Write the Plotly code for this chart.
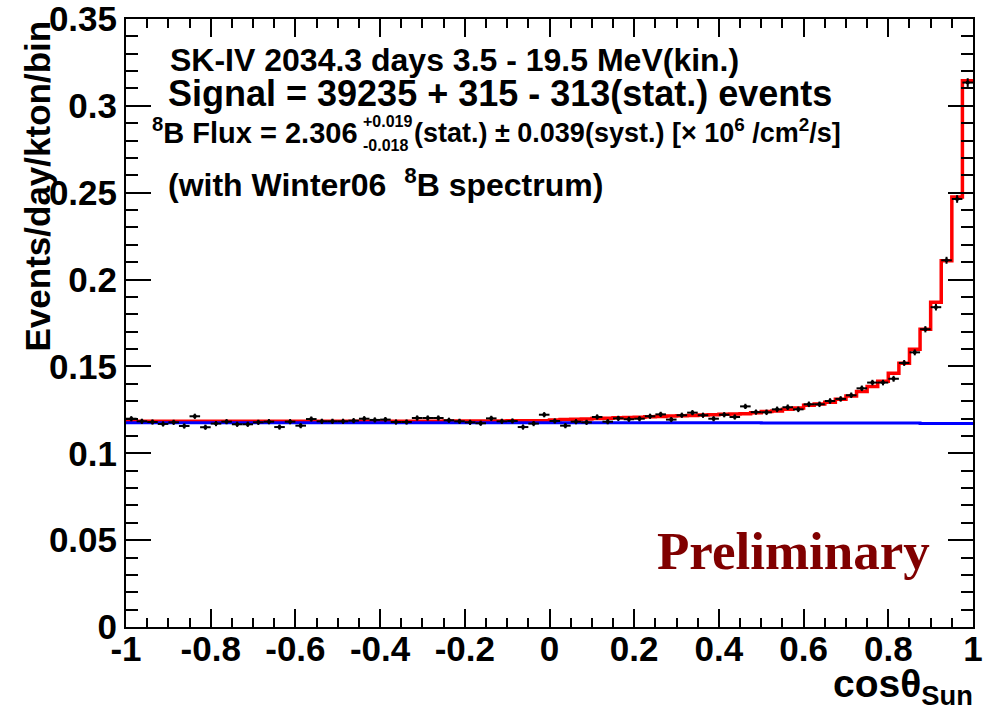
import numpy as np
import plotly.graph_objects as go

# ---------------- data ----------------
bin_edges = np.linspace(-1.0, 1.0, 81)
bin_centers = 0.5 * (bin_edges[:-1] + bin_edges[1:])
half_width = [0.0125] * 80

data_vals = [
    0.1199, 0.1184, 0.1180, 0.1169, 0.1178, 0.1157, 0.1213, 0.1150, 0.1171, 0.1182,
    0.1167, 0.1167, 0.1178, 0.1182, 0.1151, 0.1182, 0.1159, 0.1197, 0.1184, 0.1184,
    0.1184, 0.1188, 0.1199, 0.1192, 0.1194, 0.1180, 0.1180, 0.1203, 0.1203, 0.1203,
    0.1190, 0.1184, 0.1178, 0.1173, 0.1201, 0.1184, 0.1186, 0.1151, 0.1171, 0.1222,
    0.1186, 0.1159, 0.1182, 0.1178, 0.1209, 0.1182, 0.1201, 0.1196, 0.1199, 0.1213,
    0.1224, 0.1194, 0.1219, 0.1234, 0.1219, 0.1199, 0.1222, 0.1209, 0.1270, 0.1237,
    0.1236, 0.1253, 0.1265, 0.1253, 0.1282, 0.1282, 0.1301, 0.1313, 0.1334, 0.1374,
    0.1407, 0.1407, 0.1429, 0.1520, 0.1581, 0.1714, 0.1841, 0.2111, 0.2464, 0.3134,
]
data_errs = [
    0.0015, 0.0015, 0.0015, 0.0015, 0.0015, 0.0015, 0.0015, 0.0015, 0.0015, 0.0015,
    0.0015, 0.0015, 0.0015, 0.0015, 0.0015, 0.0015, 0.0015, 0.0015, 0.0015, 0.0015,
    0.0015, 0.0015, 0.0015, 0.0015, 0.0015, 0.0015, 0.0015, 0.0015, 0.0015, 0.0015,
    0.0015, 0.0015, 0.0015, 0.0015, 0.0015, 0.0015, 0.0015, 0.0015, 0.0015, 0.0015,
    0.0015, 0.0015, 0.0015, 0.0015, 0.0015, 0.0015, 0.0015, 0.0015, 0.0015, 0.0015,
    0.0015, 0.0015, 0.0015, 0.0015, 0.0015, 0.0015, 0.0015, 0.0015, 0.0015, 0.0015,
    0.0016, 0.0016, 0.0016, 0.0016, 0.0016, 0.0016, 0.0016, 0.0016, 0.0016, 0.0016,
    0.0016, 0.0016, 0.0017, 0.0017, 0.0017, 0.0018, 0.0019, 0.0020, 0.0022, 0.0025,
]
signal_bg_vals = [
    0.1184, 0.1184, 0.1184, 0.1184, 0.1184, 0.1184, 0.1184, 0.1184, 0.1184, 0.1184,
    0.1184, 0.1184, 0.1184, 0.1184, 0.1184, 0.1184, 0.1184, 0.1184, 0.1184, 0.1184,
    0.1185, 0.1185, 0.1185, 0.1185, 0.1185, 0.1185, 0.1185, 0.1185, 0.1185, 0.1185,
    0.1186, 0.1186, 0.1186, 0.1186, 0.1186, 0.1186, 0.1188, 0.1188, 0.1188, 0.1188,
    0.1192, 0.1194, 0.1196, 0.1198, 0.1200, 0.1202, 0.1204, 0.1206, 0.1208, 0.1210,
    0.1212, 0.1214, 0.1216, 0.1218, 0.1220, 0.1222, 0.1224, 0.1226, 0.1228, 0.1234,
    0.1240, 0.1244, 0.1253, 0.1261, 0.1276, 0.1284, 0.1294, 0.1311, 0.1330, 0.1355,
    0.1384, 0.1415, 0.1461, 0.1518, 0.1599, 0.1714, 0.1870, 0.2108, 0.2475, 0.3145,
]
background_vals = [0.1176] * 60 + [0.1175] * 10 + [0.1174] * 5 + [0.1172] * 5

x_tickvals = [-1, -0.8, -0.6, -0.4, -0.2, 0, 0.2, 0.4, 0.6, 0.8, 1]
x_ticktext = ["-1", "-0.8", "-0.6", "-0.4", "-0.2", "0", "0.2", "0.4", "0.6", "0.8", "1"]
y_tickvals = [0, 0.05, 0.1, 0.15, 0.2, 0.25, 0.3, 0.35]
y_ticktext = ["0", "0.05", "0.1", "0.15", "0.2", "0.25", "0.3", "0.35"]

# ---------------- layout geometry ----------------
W, H = 983, 710
ML, MR, MT, MB = 126, 10, 19, 83
PW, PH = W - ML - MR, H - MT - MB


def px(x):
    return (x - ML) / PW


def py(y):
    return (H - MB - y) / PH


SANS = "Liberation Sans, Arial, Helvetica, sans-serif"

fig = go.Figure()

step_x = list(bin_edges[:-1]) + [bin_edges[-1]]
fig.add_trace(go.Scatter(
    x=step_x, y=signal_bg_vals + [signal_bg_vals[-1]],
    mode="lines", line=dict(color="#ff0000", width=3.5, shape="hv"),
    showlegend=False, hoverinfo="skip", cliponaxis=False))
fig.add_trace(go.Scatter(
    x=step_x, y=background_vals + [background_vals[-1]],
    mode="lines", line=dict(color="#0000ff", width=3, shape="hv"),
    showlegend=False, hoverinfo="skip"))
fig.add_trace(go.Scatter(
    x=bin_centers, y=data_vals, mode="markers",
    marker=dict(color="black", size=4),
    error_x=dict(type="data", array=half_width, color="black", thickness=2, width=0),
    error_y=dict(type="data", array=data_errs, color="black", thickness=2, width=0),
    showlegend=False))

axis_common = dict(
    showline=True, linecolor="black", linewidth=2, mirror="allticks",
    ticks="inside", tickcolor="black", tickwidth=1.5,
    showgrid=False, zeroline=False, automargin=False,
    ticklabeloverflow="allow",
    tickfont=dict(family=SANS, size=35, color="black", weight="bold"),
)
fig.update_xaxes(range=[-1, 1], tickvals=x_tickvals, ticktext=x_ticktext,
                 ticklen=18, ticklabelstandoff=-10,
                 minor=dict(dtick=0.05, tick0=-1, ticks="inside", ticklen=9,
                            tickcolor="black", tickwidth=1.5),
                 **axis_common)
fig.update_yaxes(range=[0, 0.35], tickvals=y_tickvals, ticktext=y_ticktext,
                 ticklen=25,
                 minor=dict(dtick=0.01, tick0=0, ticks="inside", ticklen=12,
                            tickcolor="black", tickwidth=1.5),
                 **axis_common)

ann = []


def add_text(text, x, y, size, xanchor="left", yanchor="middle", color="black",
             family=SANS, angle=0):
    ann.append(dict(text=text, x=px(x), y=py(y), xref="paper", yref="paper",
                    xanchor=xanchor, yanchor=yanchor, showarrow=False,
                    textangle=angle,
                    font=dict(family=family, size=size, color=color, weight="bold")))


add_text("SK-IV 2034.3 days 3.5 - 19.5 MeV(kin.)", 168, 60, 32)
add_text("Signal = 39235 + 315 - 313(stat.) events", 166, 93, 36)
add_text("<sup>8</sup>B Flux = 2.306", 150, 131, 29)
add_text("+0.019", 361, 121, 16)
add_text("-0.018", 361, 145, 16)
add_text("(stat.) ± 0.039(syst.) [× 10<sup>6</sup> /cm<sup>2</sup>/s]", 412, 131, 27)
add_text("(with Winter06  <sup>8</sup>B spectrum)", 166, 183, 32)
add_text("Preliminary", 793, 551, 53, xanchor="center", color="#800000",
         family="Liberation Serif, Times New Roman, serif")
add_text("cosθ<sub>Sun</sub>", 975, 686, 39, xanchor="right")
add_text("Events/day/kton/bin", 37, 19, 35, xanchor="center", yanchor="top", angle=-90)

fig.update_layout(
    width=W, height=H, autosize=False,
    margin=dict(l=ML, r=MR, t=MT, b=MB),
    paper_bgcolor="white", plot_bgcolor="white",
    annotations=ann, showlegend=False,
)

fig.write_html("out.html")
